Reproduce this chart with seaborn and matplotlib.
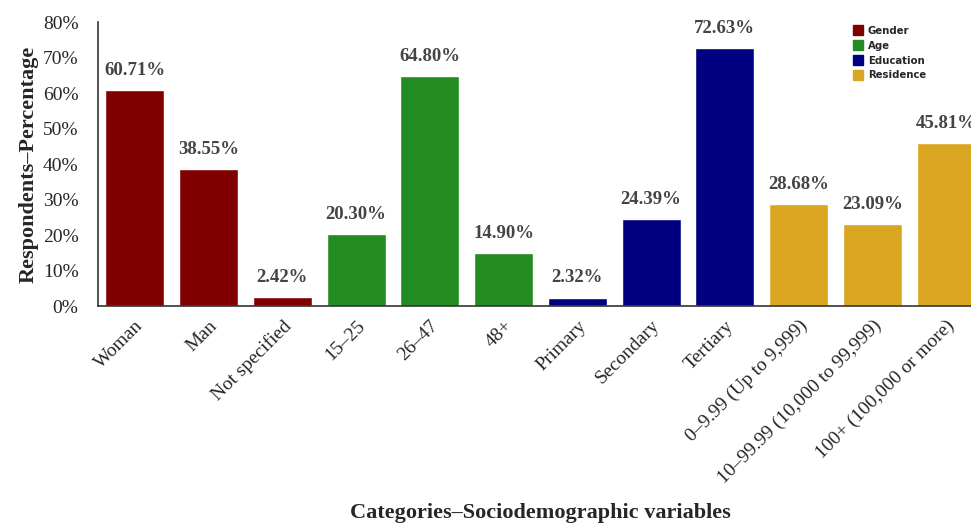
import matplotlib
matplotlib.use("Agg")
import matplotlib.pyplot as plt
from matplotlib.lines import Line2D
import seaborn as sns
import pandas as pd

categories = ["Woman", "Man", "Not specified", "15–25", "26–47", "48+",
              "Primary", "Secondary", "Tertiary",
              "0–9.99 (Up to 9,999)", "10–99.99 (10,000 to 99,999)",
              "100+ (100,000 or more)"]
percentages = [60.71, 38.55, 2.42, 20.30, 64.80, 14.90,
               2.32, 24.39, 72.63, 28.68, 23.09, 45.81]
groups = ["Gender"] * 3 + ["Age"] * 3 + ["Education"] * 3 + ["Residence"] * 3
group_names = ["Gender", "Age", "Education", "Residence"]
group_colors = ["#800000", "#228B22", "#000080", "#DAA520"]
y_ticks = [0, 10, 20, 30, 40, 50, 60, 70, 80]

df = pd.DataFrame({"category": categories, "pct": percentages, "group": groups})
palette = dict(zip(group_names, group_colors))

sns.set_style("white")
plt.rcParams["font.family"] = ["Liberation Serif", "DejaVu Serif"]

fig = plt.figure(figsize=(9.71, 5.24), dpi=100)
ax = fig.add_axes([0.1009, 0.416, 0.9114, 0.542])

sns.barplot(data=df, x="category", y="pct", hue="group", palette=palette,
            dodge=False, width=0.8, saturation=1, legend=False, ax=ax)

for i, v in enumerate(percentages):
    ax.text(i, v + 3.2, f"{v:.2f}%", ha="center", va="bottom",
            fontsize=13.5, fontweight="bold", color="#444444")

ax.set_xlim(-0.5, len(categories) - 0.5)
ax.set_ylim(0, 80)
ax.set_yticks(y_ticks)
ax.set_yticklabels([f"{t}%" for t in y_ticks], fontsize=14)
ax.set_xticks(range(len(categories)))
ax.set_xticklabels(categories, rotation=45, ha="right",
                   rotation_mode="anchor", fontsize=14)
ax.tick_params(axis="y", length=0, pad=14)
ax.tick_params(axis="x", length=0, pad=8)

ax.set_ylabel("Respondents–Percentage", fontsize=16, fontweight="bold", labelpad=3)
ax.set_xlabel("Categories–Sociodemographic variables", fontsize=16,
              fontweight="bold")
ax.xaxis.set_label_coords(0.50, -0.695)

for side in ["top", "right"]:
    ax.spines[side].set_visible(False)
for side in ["left", "bottom"]:
    ax.spines[side].set_color("#333333")
    ax.spines[side].set_linewidth(1.2)

handles = [Line2D([0], [0], marker="s", linestyle="", markersize=7.5,
                  markerfacecolor=c, markeredgecolor=c) for c in group_colors]
leg = fig.legend(handles, group_names, loc="upper left",
                 bbox_to_anchor=(0.869, 0.968), frameon=False,
                 prop={"family": "DejaVu Sans", "weight": "bold", "size": 7.3},
                 handletextpad=0.45, labelspacing=0.48, handlelength=1.0)

fig.savefig("out.png", dpi=100)
